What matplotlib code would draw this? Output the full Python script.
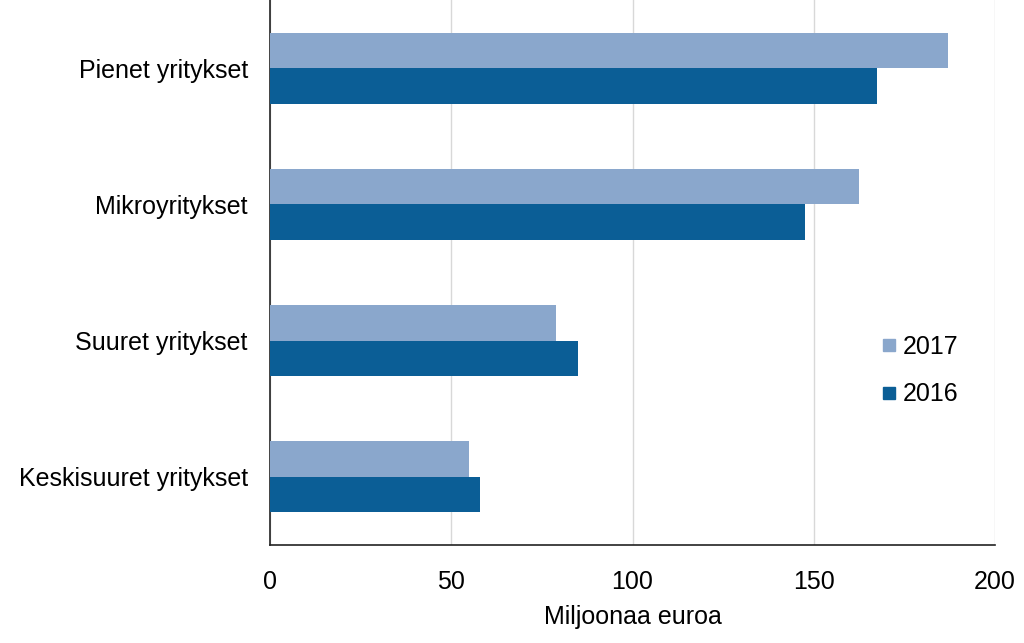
import matplotlib
matplotlib.use("Agg")
import matplotlib.pyplot as plt
import numpy as np
from matplotlib.lines import Line2D

plt.rcParams['font.family'] = ['Liberation Sans', 'DejaVu Sans']

categories = ["Pienet yritykset", "Mikroyritykset", "Suuret yritykset", "Keskisuuret yritykset"]
values_2017 = [187, 162.5, 79, 55]
values_2016 = [167.5, 147.5, 85, 58]
xticks = [0, 50, 100, 150, 200]

C2017 = "#8aa7cc"
C2016 = "#0b5e96"
FS = 18

fig = plt.figure(figsize=(10.24, 6.43), dpi=100)
ax = fig.add_axes([270 / 1024, 1 - 545 / 643, 725 / 1024, 545 / 643])

y = np.arange(len(categories))
h = 0.26
ax.barh(y - h / 2, values_2017, height=h, color=C2017, zorder=3)
ax.barh(y + h / 2, values_2016, height=h, color=C2016, zorder=3)

ax.set_ylim(len(categories) - 0.5, -0.5)
ax.set_xlim(0, 200)
ax.set_yticks(y)
ax.set_yticklabels(categories, fontsize=FS)
ax.set_xticks(xticks)
ax.set_xticklabels([str(t) for t in xticks], fontsize=FS)
ax.tick_params(axis="both", length=0)
ax.tick_params(axis="x", pad=18)
ax.tick_params(axis="y", pad=16)

ax.grid(axis="x", color="#d8d8d8", linewidth=1, zorder=0)
for s in ["top", "right"]:
    ax.spines[s].set_visible(False)
ax.spines["left"].set_color("#222222")
ax.spines["bottom"].set_color("#222222")
ax.spines["left"].set_linewidth(1.2)
ax.spines["bottom"].set_linewidth(1.2)

ax.set_xlabel("Miljoonaa euroa", fontsize=FS, labelpad=8)

handles = [
    Line2D([], [], marker="s", linestyle="", color=C2017, markersize=8),
    Line2D([], [], marker="s", linestyle="", color=C2016, markersize=8),
]
ax.legend(handles, ["2017", "2016"], loc="center left", bbox_to_anchor=(0.805, 0.32),
          frameon=False, fontsize=FS, handletextpad=0.05, labelspacing=0.95,
          handlelength=1.0)

fig.savefig("out.png", dpi=100, facecolor="white")
